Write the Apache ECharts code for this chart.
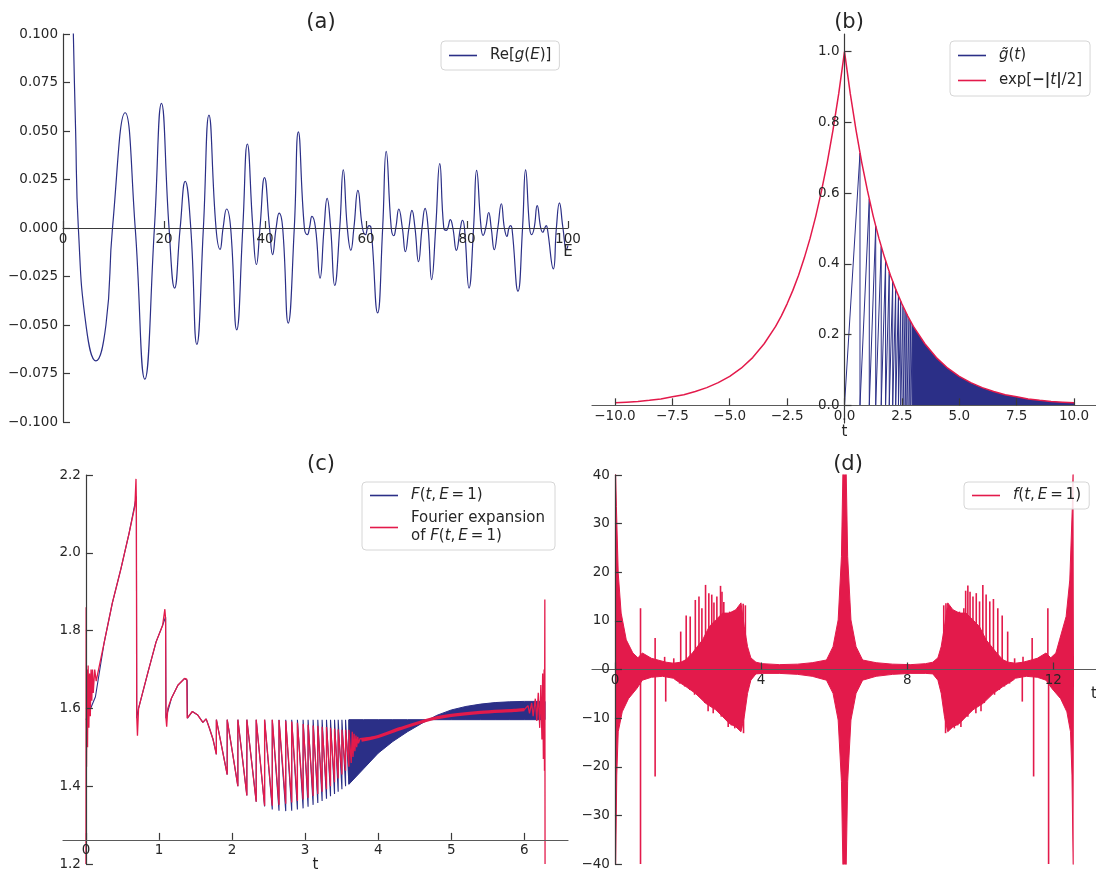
<!DOCTYPE html>
<html><head><meta charset="utf-8">
<script src="https://cdn.jsdelivr.net/npm/echarts@6/dist/echarts.min.js"></script>
<style>html,body{margin:0;padding:0;background:#fff}#c{width:1096px;height:872px}</style>
</head><body><div id="c"></div><script>
// ---------- tick labels ----------
const aXTicks = [0, 20, 40, 60, 80, 100];
const aYTicks = [-0.1, -0.075, -0.05, -0.025, 0, 0.025, 0.05, 0.075, 0.1];
const bXTicks = [-10, -7.5, -5, -2.5, 0, 2.5, 5, 7.5, 10];
const bYTicks = [0, 0.2, 0.4, 0.6, 0.8, 1.0];
const cXTicks = [0, 1, 2, 3, 4, 5, 6];
const cYTicks = [1.2, 1.4, 1.6, 1.8, 2.0, 2.2];
const dXTicks = [0, 4, 8, 12];
const dYTicks = [-40, -30, -20, -10, 0, 10, 20, 30, 40];

// ---------- (a) Re[g(E)] : [E, value] ----------
const aReG = [[1.0,0.25],[1.5,0.17],[2.05,0.1],[2.5,0.05],[3.04,0],[4.6,-0.051],[6.5,-0.0685],[8.5,-0.05],[9.8,0],
[12.3,0.0594],[14.3,0],[16.2,-0.0779],[18.1,0],[19.5,0.0642],[21.0,0],[22.1,-0.031],[23.2,0],[24.2,0.024],[25.3,0],[26.5,-0.060],[27.8,0],[28.9,0.0582],[30.3,0],[31.1,-0.011],[31.7,0],[32.4,0.0098],[33.2,0],[34.4,-0.0525],[35.6,0],[36.5,0.0433],[37.6,0],[38.3,-0.0188],[39.0,0],[39.9,0.026],[40.9,0],[41.5,-0.0137],[42.2,0],[42.8,0.0077],[43.5,0],[44.6,-0.049],[45.8,0],[46.6,0.0496],[47.8,0],[48.4,-0.0034],[48.8,0],[49.3,0.006],[50.0,0],
[50.9,-0.0258],[51.7,0],[52.3,0.0153],[53.0,0],[53.8,-0.0296],[54.8,0],[55.5,0.030],[56.3,0],[57.0,-0.0115],[57.6,0],[58.4,0.0194],[59.3,0],[59.9,-0.0034],[60.3,0],[60.6,0.0012],[61.0,0],[62.3,-0.0438],[63.3,0],[64.0,0.0395],[65.0,0],[65.5,-0.004],[65.9,0],[66.5,0.0098],[67.2,0],[67.8,-0.0122],[68.5,0],[69.1,0.0091],[69.7,0],[70.4,-0.0174],[71.1,0],[71.7,0.0101],[72.3,0],[73.0,-0.0266],[73.8,0],[74.6,0.0332],[75.4,0],[75.9,-0.0012],[76.2,0],[76.7,0.0043],[77.2,0],[77.9,-0.0115],[78.7,0],[79.1,0.004],[79.5,0],
[80.4,-0.031],[81.3,0],[81.9,0.0297],[82.8,0],[83.2,-0.0038],[83.7,0],[84.3,0.008],[84.8,0],[85.4,-0.0112],[86.1,0],[86.8,0.0125],[87.4,0],[87.9,-0.0043],[88.3,0],[88.6,0.0012],[88.9,0],[90.1,-0.0326],[91.0,0],[91.6,0.030],[92.4,0],[92.8,-0.0034],[93.3,0],[93.9,0.0115],[94.6,0],[95.0,-0.0022],[95.4,0],[95.7,0.0012],[95.9,0],[97.1,-0.0211],[97.7,0],[98.3,0.0129],[99.0,0],[99.7,-0.0112],[100,-0.009]];

// ---------- (b) ----------
const bExp = [[-10,0.007],[-9.5,0.009],[-9,0.011],[-8.5,0.014],[-8,0.018],[-7.5,0.024],[-7,0.030],[-6.5,0.039],[-6,0.050],[-5.5,0.064],[-5,0.082],[-4.5,0.105],[-4,0.135],[-3.5,0.174],[-3,0.223],[-2.75,0.253],[-2.5,0.287],[-2.25,0.325],[-2,0.368],[-1.75,0.417],[-1.5,0.472],[-1.25,0.535],[-1,0.607],[-0.75,0.687],[-0.5,0.779],[-0.25,0.882],[0,1.0],[0.25,0.882],[0.5,0.779],[0.75,0.687],[1,0.607],[1.25,0.535],[1.5,0.472],[1.75,0.417],[2,0.368],[2.25,0.325],[2.5,0.287],[2.75,0.253],[3,0.223],[3.5,0.174],[4,0.135],[4.5,0.105],[5,0.082],[5.5,0.064],[6,0.050],[6.5,0.039],[7,0.030],[7.5,0.024],[8,0.018],[8.5,0.014],[9,0.011],[9.5,0.009],[10,0.007]];
const bTeethT   = [0.675, 1.08, 1.36, 1.60, 1.79, 1.95, 2.10, 2.23, 2.35, 2.45, 2.55, 2.64, 2.72, 2.81, 2.89, 2.96];
const bTeethTop = [0.713, 0.583, 0.507, 0.449, 0.409, 0.377, 0.350, 0.328, 0.309, 0.294, 0.279, 0.267, 0.257, 0.245, 0.236, 0.228];

// ---------- (c) ----------
const cFlat = 1.571;
const cBluePre = [[0,1.571],[0.13,1.63],[0.25,1.77],[0.36,1.87],[0.48,1.96],[0.59,2.05],[0.69,2.145],[0.695,1.575],[0.72,1.6],[0.85,1.694],[0.96,1.771],[1.05,1.814],[1.09,1.835],[1.095,1.575],[1.17,1.626],[1.26,1.66],[1.35,1.677],[1.385,1.672],[1.39,1.575],[1.456,1.592],[1.53,1.583],[1.6,1.564],[1.645,1.573],[1.69,1.549],[1.74,1.52],[1.785,1.482]];
const cRedPre = [[0.0,1.2],[0.003,1.86],[0.008,1.45],[0.015,1.70],[0.022,1.50],[0.03,1.71],[0.04,1.55],[0.05,1.69],[0.06,1.58],[0.07,1.70],[0.08,1.62],[0.09,1.70],[0.1,1.64],[0.12,1.70],[0.14,1.67],[0.25,1.77],[0.36,1.87],[0.48,1.96],[0.59,2.05],[0.67,2.12],[0.685,2.19],[0.69,2.13],[0.695,1.58],[0.705,1.53],[0.72,1.6],[0.85,1.694],[0.96,1.771],[1.05,1.814],[1.08,1.855],[1.09,1.83],[1.095,1.575],[1.105,1.553],[1.12,1.6],[1.17,1.626],[1.26,1.66],[1.35,1.677],[1.38,1.675],[1.385,1.575],[1.456,1.592],[1.53,1.583],[1.6,1.564],[1.645,1.573],[1.69,1.549],[1.74,1.52],[1.785,1.482]];
const cTeethT  = [1.785, 1.933, 2.079, 2.202, 2.330, 2.445, 2.55, 2.642, 2.734, 2.816, 2.894, 2.972, 3.04, 3.109, 3.173, 3.232, 3.292, 3.347, 3.402, 3.452, 3.503, 3.553, 3.599];
const cBlueBot = [1.482, 1.43, 1.40, 1.376, 1.36, 1.348, 1.34, 1.337, 1.336, 1.337, 1.34, 1.343, 1.347, 1.352, 1.357, 1.362, 1.368, 1.374, 1.38, 1.386, 1.392, 1.40, 1.405];
const cRedBot  = [1.482, 1.43, 1.40, 1.376, 1.36, 1.35, 1.35, 1.352, 1.355, 1.358, 1.362, 1.366, 1.37, 1.375, 1.38, 1.386, 1.392, 1.40, 1.41, 1.42, 1.43, 1.44, 1.45];
const cRedTop  = [1.571, 1.571, 1.571, 1.571, 1.571, 1.571, 1.571, 1.57, 1.568, 1.566, 1.563, 1.56, 1.558, 1.556, 1.555, 1.553, 1.552, 1.55, 1.548, 1.546, 1.545, 1.545, 1.545];
const cRedTail = [[3.62,1.545],[3.63,1.46],[3.645,1.54],[3.655,1.475],[3.67,1.535],[3.68,1.49],[3.695,1.53],[3.705,1.50],[3.72,1.527],[3.73,1.51],[3.75,1.522],[3.77,1.518]];
const cRedSmooth = [[3.77,1.518],[4.0,1.528],[4.3,1.548],[4.69,1.571],[5.0,1.582],[5.4,1.59],[5.86,1.595],[6.0,1.597]];
const cRedEnd = [[6.0,1.597],[6.05,1.607],[6.07,1.587],[6.1,1.614],[6.12,1.58],[6.15,1.625],[6.17,1.568],[6.19,1.64],[6.21,1.55],[6.225,1.66],[6.24,1.52],[6.25,1.69],[6.26,1.47],[6.27,1.70],[6.275,1.44],[6.28,1.88],[6.283,1.2]];
const cBandT   = [3.599, 3.8, 4.0, 4.2, 4.4, 4.6, 4.69, 4.8, 5.0, 5.2, 5.4, 5.6, 5.8, 6.0, 6.2, 6.283];
const cBandEnv = [1.405, 1.445, 1.485, 1.515, 1.54, 1.562, 1.571, 1.582, 1.596, 1.605, 1.611, 1.615, 1.617, 1.618, 1.618, 1.618];

// ---------- (d) ----------
const dUp = [[0,45],[0.02,40],[0.04,33.5],[0.09,19.8],[0.17,11.6],[0.31,6.1],[0.49,3.4],[0.63,2.4],[0.75,3.4],[1.0,2.3],[1.2,1.9],[1.4,1.5],[1.6,1.3],[1.8,1.5],[1.94,2.0],[2.12,3.4],[2.4,6.1],[2.58,8.8],[2.76,10.2],[2.95,11.6],[3.13,11.6],[3.31,12.3],[3.45,13.7],[3.54,8.8],[3.63,4.7],[3.72,2.4],[3.86,1.5],[4.04,1.2],[4.5,1.0],[5.0,1.1],[5.4,1.4],[5.79,1.95],[5.97,4.7],[6.11,10.2],[6.2,23.2],[6.25,45],[6.32,45],[6.37,23.2],[6.46,10.2],[6.6,4.7],[6.78,1.95],[7.15,1.4],[7.6,1.1],[8.1,1.0],[8.5,1.2],[8.7,1.5],[8.84,2.4],[8.93,4.7],[9.02,8.8],[9.11,13.7],[9.25,12.3],[9.43,11.6],[9.61,11.6],[9.8,10.2],[9.98,8.8],[10.16,6.1],[10.45,3.4],[10.62,2.0],[10.77,1.5],[10.96,1.3],[11.17,1.5],[11.37,1.9],[11.56,2.3],[11.8,3.4],[11.93,2.4],[12.07,3.4],[12.17,6.1],[12.35,10.9],[12.45,18.4],[12.52,33.5],[12.55,45],[12.566,45]];
const dLo = [[0,-45],[0.02,-40],[0.05,-21.7],[0.09,-12.8],[0.2,-8.7],[0.37,-6],[0.6,-3.9],[0.75,-2.2],[1.0,-1.6],[1.3,-1.4],[1.6,-1.8],[1.67,-2.2],[1.94,-3.5],[2.2,-4.9],[2.49,-7.0],[2.76,-8.3],[2.95,-9.7],[3.13,-11.1],[3.31,-11.8],[3.45,-12.8],[3.54,-9.7],[3.63,-4.9],[3.72,-2.2],[3.86,-0.9],[4.04,-0.8],[4.5,-0.8],[5.0,-1.0],[5.4,-1.4],[5.79,-2.2],[5.97,-4.9],[6.11,-10.4],[6.2,-23],[6.25,-45],[6.32,-45],[6.37,-23],[6.46,-10.4],[6.6,-4.9],[6.78,-2.2],[7.15,-1.4],[7.6,-1.0],[8.1,-0.8],[8.5,-0.8],[8.7,-0.9],[8.84,-2.2],[8.93,-4.9],[9.02,-9.7],[9.11,-12.8],[9.25,-11.8],[9.43,-11.1],[9.61,-9.7],[9.8,-8.3],[10.07,-7.0],[10.36,-4.9],[10.62,-3.5],[10.9,-2.2],[10.96,-1.8],[11.26,-1.4],[11.56,-1.6],[11.8,-2.2],[11.96,-3.9],[12.2,-6.0],[12.37,-8.7],[12.47,-12.8],[12.51,-21.7],[12.55,-45],[12.566,-45]];
const dSpikes = [[0.70,12.6],[1.10,6.5],[1.36,2.6],[1.61,2.3],[1.80,7.8],[1.95,11.1],[2.06,10.9],[2.20,14.3],[2.30,15.0],[2.38,12.6],[2.48,17.4],[2.57,15.7],[2.65,15.4],[2.71,13.8],[2.79,15.0],[2.89,17.2],[2.93,16.0],[2.98,13.9],[3.06,11.4],[3.14,11.9],[3.21,11.1],[3.30,11.5],[3.38,10.9],[3.43,12.7],[3.51,13.5],[3.57,13.2],
[9.00,13.2],[9.06,13.6],[9.15,11.9],[9.19,10.9],[9.26,11.4],[9.36,11.1],[9.43,11.9],[9.51,11.4],[9.55,12.6],[9.60,16.2],[9.66,17.3],[9.72,16.0],[9.80,15.0],[9.89,15.7],[9.98,14.0],[10.07,17.4],[10.16,15.4],[10.26,14.0],[10.36,14.5],[10.48,12.6],[10.60,11.1],[10.75,7.8],[10.94,2.3],[11.17,2.6],[11.42,6.5],[11.85,12.6],
[0.70,-45],[1.10,-22],[1.39,-6.6],[1.77,-2.9],[1.91,-3.5],[2.05,-4.2],[2.18,-5.2],[2.32,-5.5],[2.46,-6.9],[2.55,-8.6],[2.61,-7.3],[2.69,-9.0],[2.82,-8.6],[2.91,-9.7],[3.0,-9.4],[3.10,-11.8],[3.19,-11.5],[3.28,-12.1],[3.37,-11.8],[3.46,-12.1],[3.52,-13.1],
[9.05,-13.1],[9.11,-12.1],[9.2,-11.8],[9.29,-12.1],[9.38,-11.5],[9.47,-11.8],[9.57,-9.4],[9.66,-9.7],[9.75,-8.6],[9.88,-9.0],[9.96,-7.3],[10.02,-8.6],[10.11,-6.9],[10.25,-5.5],[10.39,-5.2],[10.52,-4.2],[10.66,-3.5],[10.8,-2.9],[11.15,-6.6],[11.46,-22],[11.87,-45]];

// ---------- build line data from the read values ----------
const bTeeth = [[0, 0]];
for (let k = 0; k < bTeethT.length; k++) {
  bTeeth.push([bTeethT[k], bTeethTop[k]]);
  bTeeth.push([bTeethT[k], 0]);
}
const bBand = [[bTeethT[bTeethT.length-1], bTeethTop[bTeethTop.length-1]]].concat(bExp.filter(p => p[0] >= 3));

const cBlue = cBluePre.slice();
const cRed = cRedPre.slice();
for (let k = 0; k < cTeethT.length; k++) {
  if (k > 0) { cBlue.push([cTeethT[k], cBlueBot[k]]); cRed.push([cTeethT[k], cRedBot[k]]); }
  cBlue.push([cTeethT[k], cFlat]);
  cRed.push([cTeethT[k], cRedTop[k]]);
}
const cRedAll = cRed.concat(cRedTail, cRedSmooth, cRedEnd);

// ---------- style / layout ----------
const FONT = 'DejaVu Sans';
const TXT = '#262626';
const AX = '#3a3a3a';
const AXL = '#5a5a5a';
const BLUE = '#2b2f87';
const RED = '#e31a4b';
const fmt = (v, d) => (v < -1e-9 ? '\u2212' : '') + Math.abs(v).toFixed(d);

// grid boxes: [left, top, width, height]
const G = [[63, 34, 505, 388], [592, 34, 505, 389], [63, 475, 505, 389], [592, 475, 505, 389]];
const X_RANGE = [[0, 100], [-11, 11], [-0.314, 6.597], [-0.628, 13.195]];
const Y_RANGE = [[-0.1, 0.1], [-0.05, 1.05], [1.2, 2.2], [-40, 40]];
const Y_CROSS = [0, 0, 1.262, 0];   // where the horizontal axis crosses
const X_CROSS = [0, 0, 0, 0];       // where the vertical axis crosses
function xOffset(i) { const [lo, hi] = Y_RANGE[i]; return -G[i][3] * (Y_CROSS[i] - lo) / (hi - lo); }
function yOffset(i) { const [lo, hi] = X_RANGE[i]; return -G[i][2] * (X_CROSS[i] - lo) / (hi - lo); }

function xAx(i, ticks, dec, lineColor, extra) {
  return Object.assign({
    gridIndex: i, type: 'value', min: X_RANGE[i][0], max: X_RANGE[i][1], z: 5, position: 'bottom', offset: xOffset(i),
    axisLine: { show: true, onZero: false, lineStyle: { color: lineColor, width: 1.2 } },
    axisTick: { show: true, inside: true, length: 7, customValues: ticks, lineStyle: { color: AX, width: 1.2 } },
    axisLabel: { show: true, customValues: ticks, margin: 4, color: TXT, fontSize: 13.5, fontFamily: FONT, formatter: v => fmt(v, dec) },
    splitLine: { show: false },
    nameMoveOverlap: false,
    nameTextStyle: { color: TXT, fontSize: 15, fontFamily: FONT }
  }, extra || {});
}
function yAx(i, ticks, dec) {
  return {
    gridIndex: i, type: 'value', min: Y_RANGE[i][0], max: Y_RANGE[i][1], z: 5, position: 'left', offset: yOffset(i),
    axisLine: { show: true, onZero: false, lineStyle: { color: AX, width: 1.2 } },
    axisTick: { show: true, inside: true, length: 7, customValues: ticks, lineStyle: { color: AX, width: 1.2 } },
    axisLabel: { show: true, customValues: ticks, margin: 5, color: TXT, fontSize: 13.5, fontFamily: FONT, formatter: v => fmt(v, dec) },
    splitLine: { show: false }
  };
}

const rich = {
  r: { fontFamily: FONT, fontSize: 15, color: TXT, lineHeight: 18 },
  i: { fontFamily: FONT, fontSize: 15, color: TXT, fontStyle: 'italic', lineHeight: 18 },
  b: { fontFamily: FONT, fontSize: 15, color: TXT, fontWeight: 'bold', lineHeight: 18 }
};
const LEG = {
  'Re[g(E)]': '{r|Re[}{i|g}{r|(}{i|E}{r|)]}',
  'gt': '{i|g\u0303}{r|(}{i|t}{r|)}',
  'expt': '{r|exp[}{b|\u2212|}{i|t}{b||}{r|/2]}',
  'Ft': '{i|F}{r|(}{i|t}{r|,\u2009}{i|E}{r|\u2009=\u20091)}',
  'Fourier': '{r|Fourier expansion}\n{r|of }{i|F}{r|(}{i|t}{r|,\u2009}{i|E}{r|\u2009=\u20091)}',
  'ft': '{i|f}{r|(}{i|t}{r|,\u2009}{i|E}{r|\u2009=\u20091)}'
};
function legend(names, left, top, pad, gap) {
  return {
    data: names, left: left, top: top, orient: 'vertical', icon: 'rect',
    itemWidth: 28, itemHeight: 1.6, itemGap: gap,
    padding: pad, borderColor: '#d6d6d6', borderWidth: 1, borderRadius: 4,
    backgroundColor: 'rgba(255,255,255,0.85)',
    formatter: n => LEG[n],
    textStyle: { fontFamily: FONT, fontSize: 15, color: TXT, padding: [0, 0, 0, 8], rich: rich },
    selectedMode: false
  };
}
function title(t, x, y) {
  return { text: t, left: x, top: y, textAlign: 'center',
    textStyle: { fontSize: 21, fontWeight: 'normal', color: TXT, fontFamily: FONT } };
}
const endName = { color: TXT, fontSize: 15, fontFamily: FONT, align: 'center', verticalAlign: 'top', padding: [17, 0, 0, 0] };

const chart = echarts.init(document.getElementById('c'), null, { renderer: 'canvas' });
chart.setOption({
  backgroundColor: '#ffffff',
  animation: false,
  title: [title('(a)', 316, 7), title('(b)', 844, 7), title('(c)', 316, 449), title('(d)', 843, 449)],
  grid: G.map(g => ({ left: g[0], top: g[1], width: g[2], height: g[3], outerBoundsMode: 'none' })),
  legend: [
    legend(['Re[g(E)]'], 441, 41, [7, 8, 7, 8], 10),
    legend(['gt', 'expt'], 950, 41, [7, 8, 8, 8], 10),
    legend(['Ft', 'Fourier'], 362, 482, [6, 10, 6, 8], 8),
    legend(['ft'], 964, 482, [6, 8, 6, 8], 8)
  ],
  xAxis: [
    xAx(0, aXTicks, 0, AX, { name: 'E', nameLocation: 'end', nameGap: 0, nameTextStyle: endName }),
    xAx(1, bXTicks, 1, AXL, { name: 't', nameLocation: 'middle', nameGap: 19 }),
    xAx(2, cXTicks, 0, AXL, { name: 't', nameLocation: 'middle', nameGap: 18 }),
    xAx(3, dXTicks, 0, AXL, { name: 't', nameLocation: 'end', nameGap: -3, nameTextStyle: endName })
  ],
  yAxis: [
    yAx(0, aYTicks, 3),
    yAx(1, bYTicks, 1),
    yAx(2, cYTicks, 1),
    yAx(3, dYTicks, 0)
  ],
  series: [
    { name: 'Re[g(E)]', type: 'line', xAxisIndex: 0, yAxisIndex: 0, data: aReG, smooth: 0.5,
      showSymbol: false, clip: true, lineStyle: { color: BLUE, width: 1.2 }, itemStyle: { color: BLUE } },

    { name: 'gt', type: 'line', xAxisIndex: 1, yAxisIndex: 1, data: bTeeth, showSymbol: false, clip: true,
      lineStyle: { color: BLUE, width: 1 }, itemStyle: { color: BLUE } },
    { name: 'gtBand', type: 'line', xAxisIndex: 1, yAxisIndex: 1, data: bBand, showSymbol: false, clip: true,
      lineStyle: { width: 0, color: BLUE }, areaStyle: { color: BLUE, opacity: 1 }, itemStyle: { color: BLUE } },
    { name: 'expt', type: 'line', xAxisIndex: 1, yAxisIndex: 1, data: bExp, showSymbol: false, clip: true,
      lineStyle: { color: RED, width: 1.5 }, itemStyle: { color: RED } },

    { name: 'Ft', type: 'line', xAxisIndex: 2, yAxisIndex: 2, data: cBlue, showSymbol: false, clip: true,
      lineStyle: { color: BLUE, width: 1.1 }, itemStyle: { color: BLUE } },
    { name: 'FtBand', type: 'custom', xAxisIndex: 2, yAxisIndex: 2, data: [[cBandT[0], cFlat]], clip: true, silent: true,
      renderItem: function (params, api) {
        if (params.dataIndex > 0) return null;
        const pts = [];
        for (let i = 0; i < cBandT.length; i++) pts.push(api.coord([cBandT[i], cBandEnv[i]]));
        for (let i = cBandT.length - 1; i >= 0; i--) pts.push(api.coord([cBandT[i], cFlat]));
        return { type: 'polygon', shape: { points: pts }, style: { fill: BLUE, stroke: BLUE, lineWidth: 1 } };
      } },
    { name: 'Fourier', type: 'line', xAxisIndex: 2, yAxisIndex: 2, data: cRedAll, showSymbol: false, clip: true,
      lineStyle: { color: RED, width: 1.3 }, itemStyle: { color: RED } },
    { name: 'FourierThick', type: 'line', xAxisIndex: 2, yAxisIndex: 2, data: cRedSmooth, showSymbol: false, clip: true,
      smooth: 0.3, lineStyle: { color: RED, width: 3.2 }, itemStyle: { color: RED } },

    { name: 'ftLo', type: 'line', xAxisIndex: 3, yAxisIndex: 3, data: dLo, showSymbol: false, clip: true,
      lineStyle: { color: RED, width: 1 }, areaStyle: { color: RED, opacity: 1 }, itemStyle: { color: RED } },
    { name: 'ft', type: 'line', xAxisIndex: 3, yAxisIndex: 3, data: dUp, showSymbol: false, clip: true,
      lineStyle: { color: RED, width: 1 }, areaStyle: { color: RED, opacity: 1 }, itemStyle: { color: RED } },
    { name: 'ftSpikes', type: 'bar', xAxisIndex: 3, yAxisIndex: 3, data: dSpikes, barWidth: 1.6, clip: true,
      itemStyle: { color: RED } }
  ]
});
</script></body></html>
